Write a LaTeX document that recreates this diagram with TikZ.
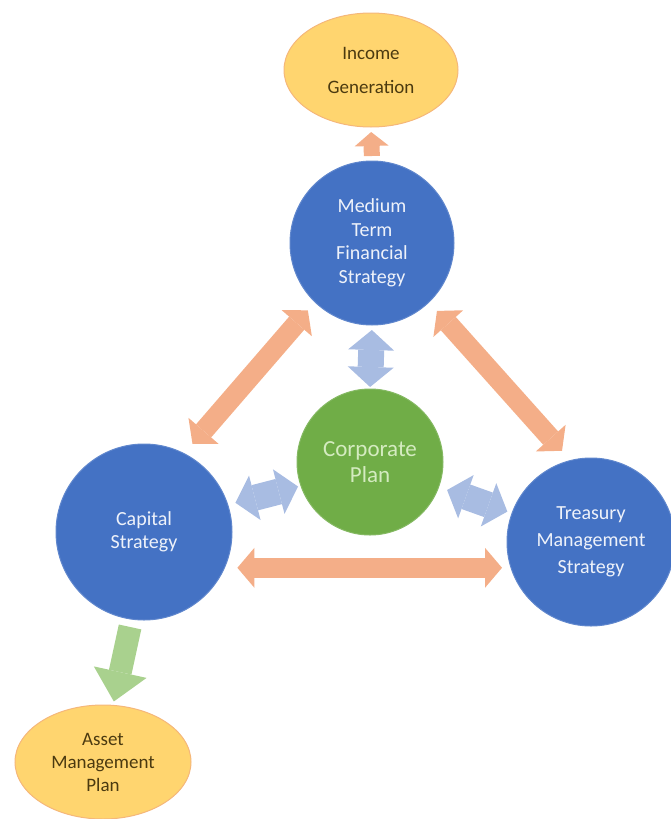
\documentclass[tikz,border=0pt]{standalone}
\usepackage{fontspec}
\setmainfont{Carlito}
\usetikzlibrary{arrows.meta,shapes.geometric}

\definecolor{planblue}{HTML}{4472C4}
\definecolor{plangreen}{HTML}{70AD47}
\definecolor{planyellow}{HTML}{FFD56F}
\definecolor{planyellowedge}{HTML}{F5B77A}
\definecolor{planbrown}{HTML}{4B3A10}
\definecolor{planlight}{HTML}{EEF2FA}
\definecolor{planlightgreen}{HTML}{D4EBC0}
\definecolor{linkorange}{HTML}{F4AE88}
\definecolor{linkgrey}{HTML}{A8BCE2}
\definecolor{linkgreen}{HTML}{A9D18E}

\begin{document}
\begin{tikzpicture}[x=1pt,y=-1pt,
  strategy/.style={circle,fill=planblue,draw=planblue!85!white,line width=1pt,
    inner sep=0pt,outer sep=0pt,text=planlight,align=center,
    font=\fontsize{20}{23.5}\selectfont},
  hub/.style={strategy,fill=plangreen,draw=plangreen!85!white,text=planlightgreen,
    font=\fontsize{23}{26}\selectfont},
  outcome/.style={ellipse,fill=planyellow,draw=planyellowedge,line width=1pt,
    inner sep=0pt,outer sep=0pt,text=planbrown,align=center,
    font=\fontsize{19}{23}\selectfont},
  twoway/.style={draw=linkorange,line width=20pt,
    arrows={Triangle[width=40pt,length=17pt,line width=0pt]-Triangle[width=40pt,length=17pt,line width=0pt]}},
  feeds/.style={draw=linkgrey,line width=26pt,
    arrows={Triangle[width=46pt,length=20pt,line width=0pt]-Triangle[width=46pt,length=20pt,line width=0pt]}},
  yields/.style={draw=linkorange,line width=16pt,
    arrows={-Triangle[width=34pt,length=14pt,line width=0pt]}},
  delivers/.style={draw=linkgreen,line width=23pt,
    arrows={-Triangle[width=54pt,length=30pt,line width=0pt]}}]
\useasboundingbox (0,0) rectangle (670,819);

% outcomes
\node[outcome,minimum width=174pt,minimum height=114pt,font=\fontsize{19}{34}\selectfont] (inc) at (371,70) {Income\\Generation};
\node[outcome,minimum width=176pt,minimum height=114pt] (amp) at (103,762) {Asset\\Management\\Plan};

% strategies
\node[strategy,minimum size=164pt] (mtfs) at (372,243) {Medium\\Term\\Financial\\Strategy};
\node[hub,minimum size=146pt] (corp) at (370,462) {Corporate\\Plan};
\node[strategy,minimum size=176pt] (cap) at (144,532) {Capital\\Strategy};
\node[strategy,minimum size=168pt,font=\fontsize{20}{27}\selectfont] (tms) at (591,542) {Treasury\\Management\\Strategy};

% links between strategies
\draw[twoway,shorten <=11pt,shorten >=13pt] (mtfs.226) -- (cap.63);
\draw[twoway,shorten <=12pt,shorten >=13pt] (mtfs.314.6) -- (tms.104);
\draw[twoway,shorten <=13pt,shorten >=5pt] (cap.-24.1) -- (cap.-24.1 -| tms.west);

% links to the corporate plan
\draw[feeds,shorten <=5pt,shorten >=2pt] (mtfs.south) -- (corp.north);
\draw[feeds,shorten <=8pt,shorten >=3pt] (cap.18) -- (corp.199);
\draw[feeds,shorten <=9pt,shorten >=5pt] (corp.-20) -- (tms.160);

% outputs
\draw[yields,shorten <=5pt,shorten >=5pt] (mtfs.north) -- (inc.south);
\draw[delivers,shorten <=8pt,shorten >=4pt] (cap.262) -- (amp.80);
\end{tikzpicture}
\end{document}
